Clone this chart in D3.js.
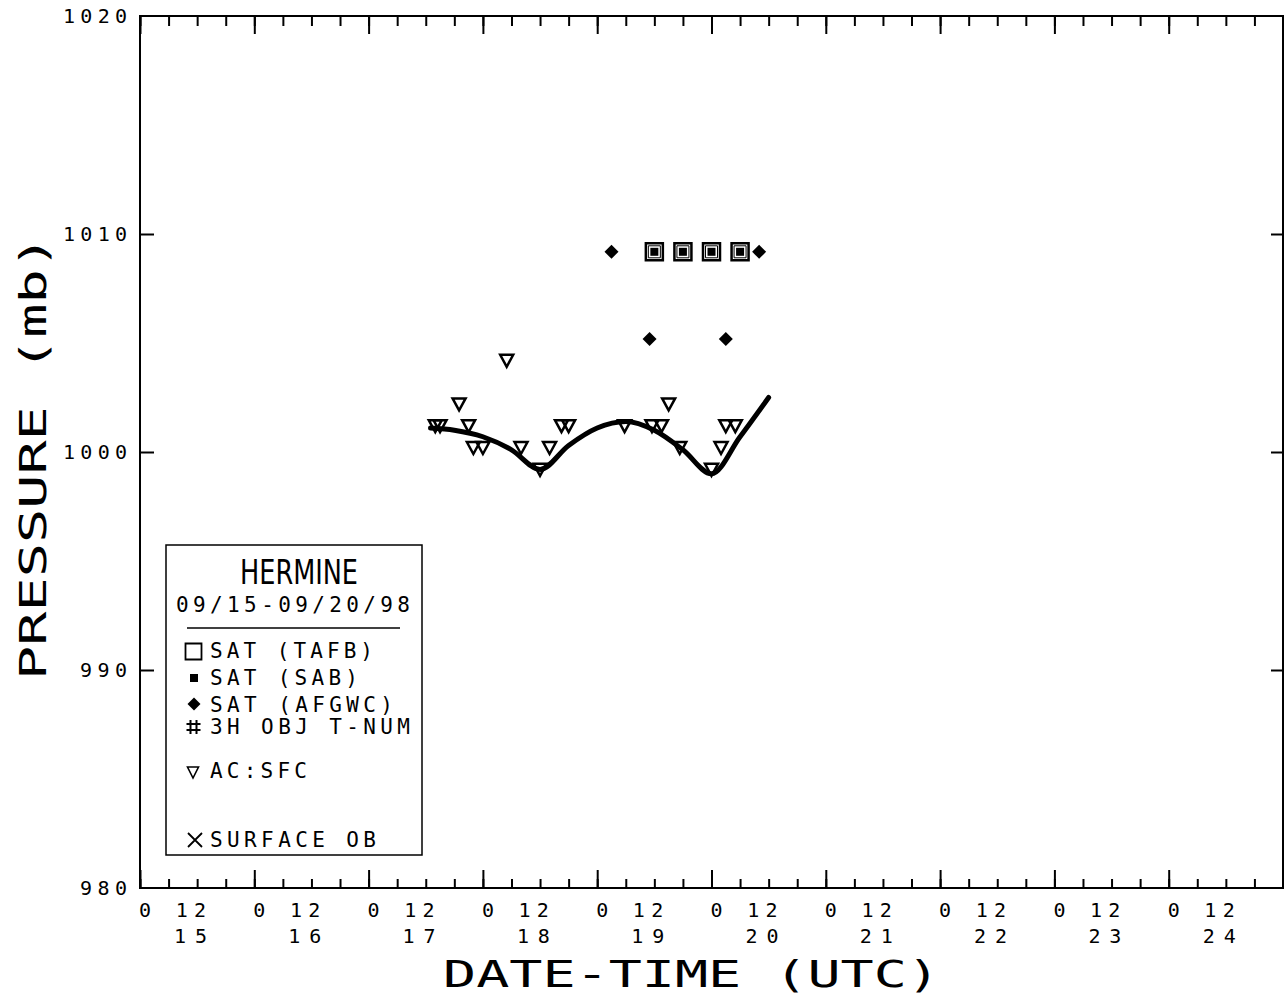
<!DOCTYPE html>
<html><head><meta charset="utf-8">
<script src="https://cdn.jsdelivr.net/npm/d3@7"></script>
<style>body{margin:0;background:#fff} svg{display:block}</style>
</head><body>
<svg id="c" width="1285" height="997"></svg>
<script>
// ---------------- data ----------------
const timeDomain = ["15 0000", "25 0000"];
const pressureDomain = [980, 1020];
const pressureTicks = [980, 990, 1000, 1010, 1020];
const dayLabels = ["15","16","17","18","19","20","21","22","23","24"];
const hourLabel = "0 12";

const bestTrackTimes = ["17 1300","17 1800","18 0000","18 0600","18 1200","18 1800","19 0000","19 0600","19 1200","19 1800","20 0000","20 0600","20 1200"];
const bestTrackPressure = [1001.1, 1001.0, 1000.7, 1000.1, 999.2, 1000.3, 1001.1, 1001.4, 1001.0, 1000.1, 999.0, 1000.7, 1002.5];

const acSfcTimes = ["17 1400","17 1500","17 1900","17 2100","17 2200","18 0000","18 0500","18 0800","18 1200","18 1400","18 1630","18 1800","19 0545","19 1130","19 1330","19 1500","19 1720","20 0000","20 0200","20 0300","20 0500"];
const acSfcPressure = [1001, 1001, 1002, 1001, 1000, 1000, 1004, 1000, 999, 1000, 1001, 1001, 1001, 1001, 1001, 1002, 1000, 999, 1000, 1001, 1001];

const tafbTimes = ["19 1200","19 1800","20 0000","20 0600"];
const tafbPressure = [1009, 1009, 1009, 1009];
const sabTimes = ["19 1200","19 1800","20 0000","20 0600"];
const sabPressure = [1009, 1009, 1009, 1009];
const afgwcTimes = ["19 0300","19 1100","20 0300","20 1000"];
const afgwcPressure = [1009, 1005, 1005, 1009];

const legendTitle = "HERMINE";
const legendDates = "09/15-09/20/98";
const legendItems = ["SAT (TAFB)", "SAT (SAB)", "SAT (AFGWC)", "3H OBJ T-NUM", "AC:SFC", "SURFACE OB"];
const xTitle = "DATE-TIME (UTC)";
const yTitle = "PRESSURE (mb)";

// ---------------- drawing ----------------
const parse = s => d3.utcParse("%Y/%m/%d %H%M")("1998/09/" + s);
const FONT = "'DejaVu Sans Mono', 'Liberation Mono', monospace";
const svg = d3.select("#c");
svg.append("rect").attr("width",1285).attr("height",997).attr("fill","#fff");

const L = 140, R = 1283, T = 16, B = 888;
const x = d3.scaleUtc().domain(timeDomain.map(parse)).range([L, R]);
const y = d3.scaleLinear().domain(pressureDomain).range([B, T]);

function styleAxis(g){
  g.select(".domain").remove();
  g.selectAll(".tick line").attr("stroke","#000").attr("stroke-width",2);
  g.selectAll(".tick text").remove();
}
const minorTicks = d3.utcHour.every(6).range(x.domain()[0], x.domain()[1]);
const majorTicks = d3.utcDay.range(x.domain()[0], x.domain()[1]);
// bottom
svg.append("g").attr("transform",`translate(0,${B})`)
  .call(d3.axisBottom(x).tickValues(minorTicks).tickSize(-9).tickFormat("")).call(styleAxis);
svg.append("g").attr("transform",`translate(0,${B})`)
  .call(d3.axisBottom(x).tickValues(majorTicks).tickSize(-18).tickFormat("")).call(styleAxis);
// top
svg.append("g").attr("transform",`translate(0,${T})`)
  .call(d3.axisTop(x).tickValues(minorTicks).tickSize(-10).tickFormat("")).call(styleAxis);
svg.append("g").attr("transform",`translate(0,${T})`)
  .call(d3.axisTop(x).tickValues(majorTicks).tickSize(-18).tickFormat("")).call(styleAxis);
// left / right
svg.append("g").attr("transform",`translate(${L},0)`)
  .call(d3.axisLeft(y).tickValues(pressureTicks.slice(1,-1)).tickSize(-14).tickFormat("")).call(styleAxis);
svg.append("g").attr("transform",`translate(${R},0)`)
  .call(d3.axisRight(y).tickValues(pressureTicks.slice(1,-1)).tickSize(-12).tickFormat("")).call(styleAxis);

// frame
svg.append("rect").attr("x",L).attr("y",T).attr("width",R-L).attr("height",B-T)
  .attr("fill","none").attr("stroke","#000").attr("stroke-width",2);

// y tick labels
svg.append("g").selectAll("text").data(pressureTicks).join("text")
  .attr("x",127).attr("y",d=>y(d)+7)
  .attr("text-anchor","end").attr("font-family",FONT).attr("font-size",20)
  .attr("textLength",d=>String(d).length*17-4).attr("lengthAdjust","spacing")
  .text(d=>String(d));

// x tick labels
const days = majorTicks;
svg.append("g").selectAll("text").data(days).join("text")
  .attr("x",d=>x(d)-1).attr("y",917)
  .attr("font-family",FONT).attr("font-size",20)
  .attr("textLength",67).attr("lengthAdjust","spacing")
  .text(hourLabel);
svg.append("g").selectAll("text").data(days).join("text")
  .attr("x",d=>x(d)+34).attr("y",943)
  .attr("font-family",FONT).attr("font-size",20)
  .attr("textLength",33).attr("lengthAdjust","spacing")
  .text((d,i)=>dayLabels[i]);

// axis titles
svg.append("text").attr("x",443).attr("y",987)
  .attr("font-family",FONT).attr("font-size",38)
  .attr("textLength",497).attr("lengthAdjust","spacingAndGlyphs")
  .text(xTitle);
svg.append("text").attr("transform","translate(46,680) rotate(-90)")
  .attr("font-family",FONT).attr("font-size",38)
  .attr("textLength",445).attr("lengthAdjust","spacingAndGlyphs")
  .text(yTitle);

// best track line
const bt = bestTrackTimes.map((t,i)=>({t:parse(t), p:bestTrackPressure[i]}));
svg.append("path").datum(bt)
  .attr("d", d3.line().x(d=>x(d.t)).y(d=>y(d.p)).curve(d3.curveMonotoneX))
  .attr("fill","none").attr("stroke","#000").attr("stroke-width",5)
  .attr("stroke-linecap","round").attr("stroke-linejoin","round");

const markerDy = -4;
// symbol paths
const triPath = (w,h)=>`M${-w/2},${-h/2}L${w/2},${-h/2}L0,${h/2}Z`;
const diaPath = r=>`M0,${-r}L${r},0L0,${r}L${-r},0Z`;
const sqPath = s=>`M${-s/2},${-s/2}h${s}v${s}h${-s}Z`;

// AC:SFC triangles
const ac = acSfcTimes.map((t,i)=>({t:parse(t), p:acSfcPressure[i]}));
svg.append("g").selectAll("path").data(ac).join("path")
  .attr("transform",d=>`translate(${x(d.t)},${y(d.p)+markerDy})`)
  .attr("d",triPath(13,12)).attr("fill","none").attr("stroke","#000").attr("stroke-width",2.5)
  .attr("stroke-linejoin","miter");

// TAFB open squares
const tafb = tafbTimes.map((t,i)=>({t:parse(t), p:tafbPressure[i]}));
svg.append("g").selectAll("path").data(tafb).join("path")
  .attr("transform",d=>`translate(${x(d.t)},${y(d.p)+markerDy})`)
  .attr("d",sqPath(17)).attr("fill","#fff").attr("stroke","#000").attr("stroke-width",2.5);
svg.append("g").selectAll("path").data(tafb).join("path")
  .attr("transform",d=>`translate(${x(d.t)},${y(d.p)+markerDy})`)
  .attr("d",sqPath(12)).attr("fill","none").attr("stroke","#000").attr("stroke-width",1);
// SAB filled squares
const sab = sabTimes.map((t,i)=>({t:parse(t), p:sabPressure[i]}));
svg.append("g").selectAll("path").data(sab).join("path")
  .attr("transform",d=>`translate(${x(d.t)},${y(d.p)+markerDy})`)
  .attr("d",sqPath(8)).attr("fill","#000");
// AFGWC diamonds
const af = afgwcTimes.map((t,i)=>({t:parse(t), p:afgwcPressure[i]}));
svg.append("g").selectAll("path").data(af).join("path")
  .attr("transform",d=>`translate(${x(d.t)},${y(d.p)+markerDy})`)
  .attr("d",diaPath(7)).attr("fill","#000");

// ---------------- legend ----------------
const lg = svg.append("g");
lg.append("rect").attr("x",166).attr("y",545).attr("width",256).attr("height",310)
  .attr("fill","#fff").attr("stroke","#000").attr("stroke-width",1.5);
lg.append("text").attr("x",240).attr("y",584)
  .attr("font-family","'DejaVu Sans Condensed','DejaVu Sans',sans-serif").attr("font-size",34)
  .attr("textLength",118).attr("lengthAdjust","spacingAndGlyphs").text(legendTitle);
lg.append("text").attr("x",176).attr("y",612)
  .attr("font-family",FONT).attr("font-size",21)
  .attr("textLength",234).attr("lengthAdjust","spacing").text(legendDates);
lg.append("line").attr("x1",187).attr("x2",400).attr("y1",628).attr("y2",628)
  .attr("stroke","#000").attr("stroke-width",1.5);

const itemBase = [658, 685, 712, 734, 778, 847];
const itemLen = [163, 148, 183, 200, 97, 166];
lg.selectAll("text.item").data(legendItems).join("text").attr("class","item")
  .attr("x",210).attr("y",(d,i)=>itemBase[i])
  .attr("font-family",FONT).attr("font-size",21)
  .attr("textLength",(d,i)=>itemLen[i]).attr("lengthAdjust","spacing")
  .text(d=>d);

// legend symbols
lg.append("path").attr("transform","translate(193.5,651.5)").attr("d",sqPath(16))
  .attr("fill","none").attr("stroke","#000").attr("stroke-width",1.8);
lg.append("path").attr("transform","translate(194,678)").attr("d",sqPath(8)).attr("fill","#000");
lg.append("path").attr("transform","translate(194,704)").attr("d",diaPath(6.5)).attr("fill","#000");
lg.append("path").attr("transform","translate(193.5,727)")
  .attr("d","M-3,-7L-3,7M3,-7L3,7M-7,-3L7,-3M-7,3L7,3")
  .attr("stroke","#000").attr("stroke-width",2).attr("fill","none");
lg.append("path").attr("transform","translate(193,772.5)").attr("d",triPath(11,11))
  .attr("fill","none").attr("stroke","#000").attr("stroke-width",1.6);
lg.append("path").attr("transform","translate(195,840)")
  .attr("d","M-7,-7L7,7M7,-7L-7,7").attr("stroke","#000").attr("stroke-width",1.8);
</script>
</body></html>
